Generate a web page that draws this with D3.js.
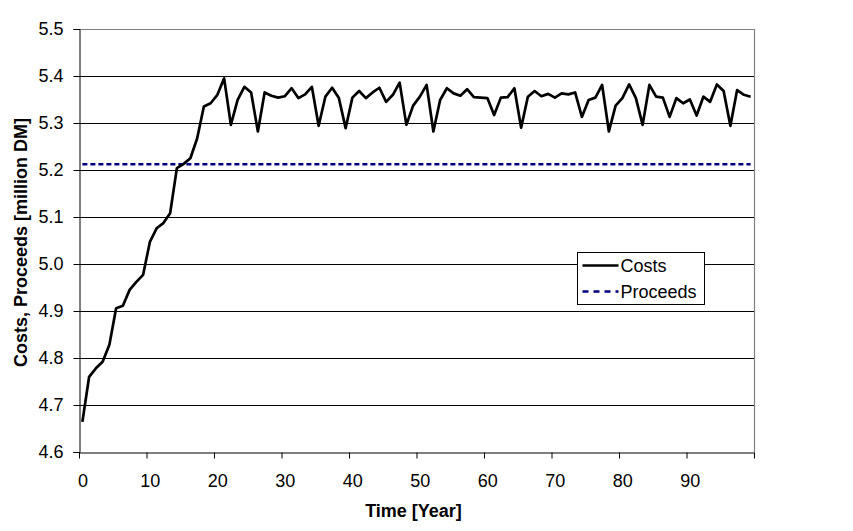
<!DOCTYPE html>
<html>
<head>
<meta charset="utf-8">
<script src="https://cdn.jsdelivr.net/npm/d3@7"></script>
<style>
  html, body { margin: 0; padding: 0; background: #fff; }
  svg { display: block; font-family: "Liberation Sans", Arial, sans-serif; }
</style>
</head>
<body>
<svg id="chart" width="853" height="531"></svg>
<script>
// ---- data ----
const years = d3.range(0, 100);
const costs = [
  4.664, 4.760, 4.778, 4.792, 4.828, 4.906, 4.911, 4.945, 4.962, 4.977,
  5.047, 5.076, 5.087, 5.108, 5.204, 5.213, 5.225, 5.267, 5.335, 5.342,
  5.360, 5.395, 5.296, 5.349, 5.377, 5.365, 5.282, 5.365, 5.358, 5.354,
  5.357, 5.374, 5.353, 5.361, 5.377, 5.294, 5.356, 5.375, 5.353, 5.289,
  5.354, 5.368, 5.353, 5.365, 5.375, 5.345, 5.360, 5.386, 5.296, 5.337,
  5.356, 5.381, 5.282, 5.349, 5.374, 5.363, 5.358, 5.372, 5.355, 5.354,
  5.353, 5.317, 5.354, 5.355, 5.374, 5.290, 5.356, 5.368, 5.357, 5.362,
  5.354, 5.363, 5.361, 5.365, 5.313, 5.349, 5.354, 5.381, 5.282, 5.337,
  5.353, 5.382, 5.353, 5.296, 5.381, 5.356, 5.354, 5.313, 5.353, 5.342,
  5.350, 5.316, 5.356, 5.345, 5.382, 5.368, 5.294, 5.370, 5.360, 5.356
];
const proceeds = [
  { year: 0, value: 5.212 },
  { year: 99, value: 5.212 }
];
const yTicks = [4.6, 4.7, 4.8, 4.9, 5.0, 5.1, 5.2, 5.3, 5.4, 5.5];
const xTickLabels = [0, 10, 20, 30, 40, 50, 60, 70, 80, 90];
const xTickMarks = [-0.5, 9.5, 19.5, 29.5, 39.5, 49.5, 59.5, 69.5, 79.5, 89.5, 99.5];
const seriesNames = ["Costs", "Proceeds"];

// ---- layout ----
const L = 79, R = 754, T = 29, B = 452;
const svg = d3.select("#chart");
const x = d3.scaleLinear().domain([-0.5, 99.5]).range([L, R]);
const y = d3.scaleLinear().domain([4.6, 5.5]).range([B, T]);
const FONT = 18;
const FF = "Liberation Sans, Arial, sans-serif";

// gridlines
svg.append("g")
  .selectAll("line")
  .data(yTicks.filter(d => d > 4.6 && d < 5.5))
  .join("line")
  .attr("x1", L).attr("x2", R)
  .attr("y1", d => Math.round(y(d)) + 0.5).attr("y2", d => Math.round(y(d)) + 0.5)
  .attr("stroke", "#000").attr("stroke-width", 1);

// plot border top & right (gray)
svg.append("path")
  .attr("d", `M${L},${T + 0.5}H${R + 0.5}V${B}`)
  .attr("fill", "none").attr("stroke", "#808080").attr("stroke-width", 1.2);

// Y axis
const yAxis = svg.append("g")
  .attr("transform", `translate(${L + 0.5},0)`)
  .call(d3.axisLeft(y).tickValues(yTicks).tickFormat(d3.format(".1f")).tickSize(6).tickPadding(10));
yAxis.selectAll("text").attr("font-size", FONT).attr("fill", "#000").attr("font-family", FF);
yAxis.selectAll("line,path").attr("stroke", "#000");

// X axis tick marks
const xAxisMarks = svg.append("g")
  .attr("transform", `translate(0,${B + 0.5})`)
  .call(d3.axisBottom(x).tickValues(xTickMarks).tickFormat("").tickSize(6).tickSizeOuter(0));
xAxisMarks.selectAll("line,path").attr("stroke", "#000");

// X axis labels (category centers)
const xAxisLabels = svg.append("g")
  .attr("transform", `translate(0,${B})`)
  .call(d3.axisBottom(x).tickValues(xTickLabels).tickFormat(d3.format("d")).tickSize(0).tickPadding(22));
xAxisLabels.select(".domain").remove();
xAxisLabels.selectAll("text").attr("font-size", FONT).attr("fill", "#000").attr("font-family", FF);

// Proceeds line
const line = d3.line().x(d => x(d.year)).y(d => y(d.value));
svg.append("path")
  .datum(proceeds)
  .attr("d", line)
  .attr("fill", "none")
  .attr("stroke", "#000080")
  .attr("stroke-width", 2.5)
  .attr("stroke-dasharray", "5,3");

// Costs line
const costLine = d3.line().x((d, i) => x(years[i])).y(d => y(d));
svg.append("path")
  .datum(costs)
  .attr("d", costLine)
  .attr("fill", "none")
  .attr("stroke", "#000")
  .attr("stroke-width", 2.7)
  .attr("stroke-linejoin", "round");

// Axis titles
svg.append("text")
  .attr("x", (L + R) / 2 - 3).attr("y", 517)
  .attr("text-anchor", "middle")
  .attr("font-weight", "bold").attr("font-size", FONT).attr("font-family", FF)
  .text("Time [Year]");
svg.append("text")
  .attr("transform", `translate(27,${(T + B) / 2 + 2}) rotate(-90)`)
  .attr("text-anchor", "middle")
  .attr("font-weight", "bold").attr("font-size", FONT).attr("font-family", FF)
  .text("Costs, Proceeds [million DM]");

// Legend
const lg = svg.append("g").attr("transform", "translate(577.5,252.5)");
lg.append("rect").attr("width", 127).attr("height", 52)
  .attr("fill", "#fff").attr("stroke", "#000").attr("stroke-width", 1);
const items = lg.selectAll("g.item").data(seriesNames).join("g")
  .attr("transform", (d, i) => `translate(0,${13 + i * 26})`);
items.append("line")
  .attr("x1", 5).attr("x2", 41).attr("y1", 0).attr("y2", 0)
  .attr("stroke", (d, i) => i === 0 ? "#000" : "#000080")
  .attr("stroke-width", 2.5)
  .attr("stroke-dasharray", (d, i) => i === 0 ? null : "6,5");
items.append("text")
  .attr("x", 43).attr("y", 0).attr("dy", "0.35em")
  .attr("font-size", FONT).attr("font-family", FF)
  .text(d => d);
</script>
</body>
</html>
